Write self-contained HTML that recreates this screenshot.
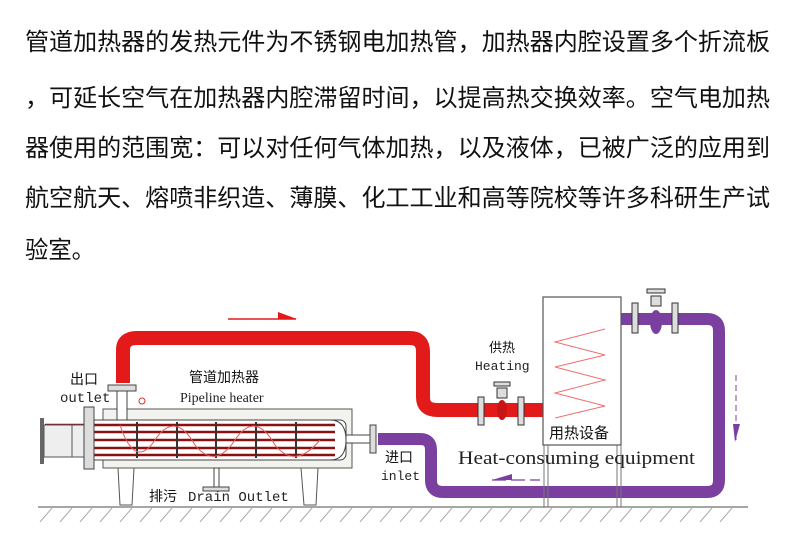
<!DOCTYPE html>
<html><head><meta charset="utf-8"><style>
html,body{margin:0;padding:0;background:#fff}
svg{display:block}
.t{font-family:"Liberation Sans","Noto Sans CJK SC",sans-serif;font-size:24px;fill:#111}
.c{font-family:"Noto Sans CJK SC",sans-serif;fill:#111}
.m{font-family:"Liberation Mono","DejaVu Sans Mono",monospace;fill:#222}
.s{font-family:"Liberation Serif",serif;fill:#222}
</style></head><body>
<svg width="790" height="550" viewBox="0 0 790 550" xmlns="http://www.w3.org/2000/svg">
<text class="t" x="25" y="50" textLength="745" lengthAdjust="spacingAndGlyphs">管道加热器的发热元件为不锈钢电加热管，加热器内腔设置多个折流板</text>
<text class="t" x="25" y="106" textLength="745" lengthAdjust="spacingAndGlyphs">，可延长空气在加热器内腔滞留时间，以提高热交换效率。空气电加热</text>
<text class="t" x="25" y="156" textLength="745" lengthAdjust="spacingAndGlyphs">器使用的范围宽：可以对任何气体加热，以及液体，已被广泛的应用到</text>
<text class="t" x="25" y="206" textLength="745" lengthAdjust="spacingAndGlyphs">航空航天、熔喷非织造、薄膜、化工工业和高等院校等许多科研生产试</text>
<text class="t" x="25" y="258" textLength="70" lengthAdjust="spacingAndGlyphs">验室。</text>

<!-- ground -->
<line x1="38" y1="507" x2="748" y2="507" stroke="#888" stroke-width="1.5"/>
<g stroke="#aaa" stroke-width="1">
<path d="M40 522l12-14M60 522l12-14M80 522l12-14M100 522l12-14M120 522l12-14M140 522l12-14M160 522l12-14M180 522l12-14M200 522l12-14M220 522l12-14M240 522l12-14M260 522l12-14M280 522l12-14M300 522l12-14M320 522l12-14M340 522l12-14M360 522l12-14M380 522l12-14M400 522l12-14M420 522l12-14M440 522l12-14M460 522l12-14M480 522l12-14M500 522l12-14M520 522l12-14M540 522l12-14M560 522l12-14M580 522l12-14M600 522l12-14M620 522l12-14M640 522l12-14M660 522l12-14M680 522l12-14M700 522l12-14M720 522l12-14"/>
</g>

<!-- red pipe -->
<path d="M123 383 V350 Q123 338 137 338 H410 Q423 338 423 352 V397 Q423 410 437 410 H543" fill="none" stroke="#e21a1a" stroke-width="14"/>
<line x1="228" y1="319" x2="296" y2="319" stroke="#e21a1a" stroke-width="1.5"/>
<path d="M278 312 L297 319 L278 319 Z" fill="#e21a1a"/>

<!-- purple pipe -->
<path d="M621 319 H707 Q719 319 719 331 V480 Q719 492 707 492 H443 Q431 492 431 480 V450 Q431 439 420 439 H378" fill="none" stroke="#7b3fa0" stroke-width="12"/>
<path d="M736 375 V440" stroke="#7b3fa0" stroke-width="1" stroke-dasharray="6 4"/>
<path d="M733 424 L740 424 L735 442 Z" fill="#7b3fa0"/>
<path d="M492 480 H540" stroke="#7b3fa0" stroke-width="1.2" stroke-dasharray="14 5"/>
<path d="M492 480 L512 474 L512 480 Z" fill="#7b3fa0"/>

<!-- valves -->
<g fill="#ddd" stroke="#333" stroke-width="1">
<rect x="478" y="397" width="6" height="28"/><rect x="518" y="397" width="6" height="28"/>
<rect x="497" y="388" width="10" height="10"/><rect x="494" y="382" width="16" height="4"/>
<rect x="632" y="303" width="6" height="30"/><rect x="672" y="303" width="6" height="30"/>
<rect x="651" y="296" width="10" height="10"/><rect x="647" y="289" width="18" height="4"/>
</g>
<ellipse cx="502" cy="410" rx="5" ry="10" fill="#c91515"/>
<ellipse cx="656" cy="322" rx="6" ry="12" fill="#7b3fa0"/>

<!-- equipment box -->
<rect x="543" y="297" width="78" height="148" fill="#fff" stroke="#555" stroke-width="1.2"/>
<path d="M605 329 L555 342 L605 355 L555 367 L605 380 L555 393 L605 406 L555 418" fill="none" stroke="#f07070" stroke-width="1"/>
<path d="M544 445 V507 M548 445 V507 M617 445 V507 M621 445 V507" stroke="#777" stroke-width="1"/>
<text class="c" x="549" y="438" font-size="15">用热设备</text>
<text class="s" x="458" y="464" font-size="19" textLength="237" lengthAdjust="spacingAndGlyphs">Heat-consuming equipment</text>
<text class="c" x="489" y="352" font-size="13">供热</text>
<text class="m" x="475" y="370" font-size="13">Heating</text>

<!-- heater -->
<rect x="103" y="409" width="249" height="59" fill="#f2f2ee" stroke="#555"/>
<rect x="88" y="420" width="258" height="40" rx="6" fill="#fff" stroke="#444"/>
<path d="M330 420 Q346 420 346 440 Q346 460 330 460" fill="#fff" stroke="#444"/>
<rect x="346" y="435" width="25" height="8" fill="#fff" stroke="#444"/>
<rect x="370" y="425" width="6" height="28" fill="#ddd" stroke="#444"/>
<g stroke="#8b1010" stroke-width="2.5">
<line x1="45" y1="425" x2="335" y2="425"/><line x1="45" y1="432" x2="335" y2="432"/>
<line x1="45" y1="440" x2="335" y2="440"/><line x1="45" y1="448" x2="335" y2="448"/><line x1="45" y1="455" x2="335" y2="455"/>
</g>
<g stroke="#333" stroke-width="2"><line x1="137" y1="422" x2="137" y2="458"/><line x1="177" y1="422" x2="177" y2="458"/><line x1="216" y1="422" x2="216" y2="458"/><line x1="256" y1="422" x2="256" y2="458"/><line x1="296" y1="422" x2="296" y2="458"/></g>
<path d="M120 425 Q135 470 155 440 Q175 410 195 445 Q215 470 235 440 Q255 410 275 445 Q295 470 320 440" fill="none" stroke="#e55" stroke-width="1"/>
<rect x="40" y="418" width="4" height="46" fill="#666"/>
<rect x="44" y="425" width="28" height="32" fill="#eee" stroke="#555"/>
<rect x="72" y="425" width="12" height="32" fill="#eee" stroke="#555"/>
<rect x="84" y="407" width="10" height="62" fill="#ddd" stroke="#444"/>
<rect x="117" y="390" width="10" height="30" fill="#fff" stroke="#444"/>
<rect x="108" y="385" width="28" height="6" fill="#ddd" stroke="#444"/>
<circle cx="142" cy="401" r="3" fill="none" stroke="#c33"/>
<rect x="214" y="468" width="5" height="20" fill="#fff" stroke="#444"/>
<rect x="203" y="487" width="26" height="4" fill="#ddd" stroke="#444"/>
<path d="M118 468 L120 505 L132 505 L134 468 Z M301 468 L304 505 L316 505 L318 468 Z" fill="#fff" stroke="#555"/>

<text class="c" x="70" y="384" font-size="14">出口</text>
<text class="m" x="60" y="402" font-size="14">outlet</text>
<text class="c" x="189" y="382" font-size="14">管道加热器</text>
<text class="s" x="180" y="402" font-size="14">Pipeline heater</text>
<text class="c" x="149" y="501" font-size="14">排污</text>
<text class="m" x="188" y="501" font-size="14">Drain Outlet</text>
<text class="c" x="385" y="462" font-size="14">进口</text>
<text class="m" x="381" y="480" font-size="13">inlet</text>
</svg>
</body></html>
